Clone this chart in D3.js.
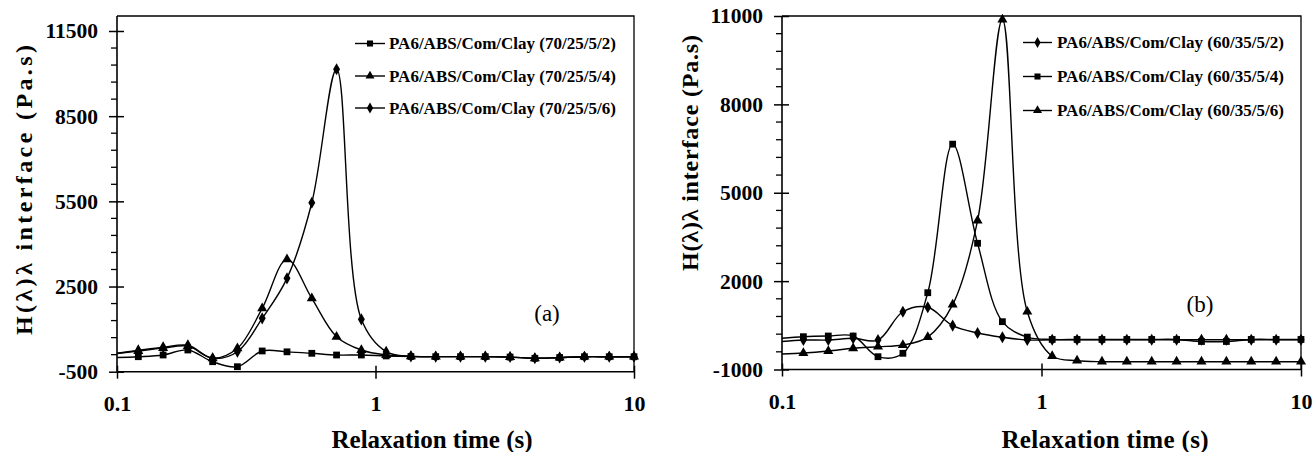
<!DOCTYPE html>
<html><head><meta charset="utf-8">
<script src="https://cdn.jsdelivr.net/npm/d3@7"></script>
<style>
body{margin:0;background:#fff;}
svg{display:block;}
text{font-family:"Liberation Serif","Times New Roman",serif;fill:#000;}
</style>
</head><body>
<svg id="c" width="1313" height="452"></svg>
<script>
// ---------- DATA ----------
// relaxation times (s); the first entry (0.1) starts the line at the axis, markers drawn from index 1
const relaxTime = [0.1, 0.1209, 0.1508, 0.1880, 0.2344, 0.2923, 0.3645, 0.4546, 0.5670, 0.7069, 0.8816,
                   1.0995, 1.371, 1.710, 2.132, 2.659, 3.316, 4.135, 5.157, 6.431, 8.020, 10.0];

// panel (a)
const a_70_25_5_2 = [0, 28, 88, 264, -148, -324, 230, 200, 148, 88, 88, 55, 35, 30, 30, 30, 15, -28, 0, 28, 28, 28];
const a_70_25_5_4 = [140, 230, 330, 400, -28, 323, 1731, 3455, 2083, 732, 264, 88, 40, 30, 30, 30, 15, -28, 0, 28, 28, 28];
const a_70_25_5_6 = [150, 250, 360, 430, -28, 204, 1379, 2787, 5450, 10150, 1344, 204, 40, 30, 30, 30, 15, -28, 0, 28, 28, 28];

// panel (b)
const b_60_35_5_2 = [-50, 0, 0, 59, 0, 960, 1112, 490, 240, 93, 0, 10, 10, 10, 10, 10, 10, 10, 10, 10, 10, 10];
const b_60_35_5_4 = [60, 114, 137, 137, -565, -450, 1607, 6650, 3285, 623, 100, 20, 20, 20, 20, 20, 20, -50, -50, 20, 20, 20];
const b_60_35_5_6 = [-474, -440, -372, -280, -226, -170, 100, 1200, 4052, 10880, 962, -542, -701, -735, -735, -735, -735, -735, -735, -735, -735, -735];

const yTicksA = [-500, 2500, 5500, 8500, 11500];
const yTicksB = [-1000, 2000, 5000, 8000, 11000];
const xTicks = [0.1, 1, 10];
const xTickLabels = ["0.1", "1", "10"];

const namesA = ["PA6/ABS/Com/Clay (70/25/5/2)", "PA6/ABS/Com/Clay (70/25/5/4)", "PA6/ABS/Com/Clay (70/25/5/6)"];
const namesB = ["PA6/ABS/Com/Clay (60/35/5/2)", "PA6/ABS/Com/Clay (60/35/5/4)", "PA6/ABS/Com/Clay (60/35/5/6)"];

const yTitle = "H(λ)λ interface (Pa.s)";
const xTitle = "Relaxation time (s)";

// ---------- LAYOUT ----------
const panels = [
  { left:117, right:634, top:16, bottom:371.7, yDomain:[-500, 12028], yTicks:yTicksA,
    series:[{name:namesA[0], v:a_70_25_5_2, sym:"square"},
            {name:namesA[1], v:a_70_25_5_4, sym:"triangle"},
            {name:namesA[2], v:a_70_25_5_6, sym:"diamond"}],
    leg:{x0:355, x1:385, tx:389, ys:[43.5, 76, 108]},
    tag:"(a)", tagX:547, tagY:313,
    yt:{x:24, y:190, len:290}, xt:{x:432, len:201} },
  { left:782, right:1301, top:16, bottom:369.5, yDomain:[-1000, 11000], yTicks:yTicksB,
    series:[{name:namesB[0], v:b_60_35_5_2, sym:"diamond"},
            {name:namesB[1], v:b_60_35_5_4, sym:"square"},
            {name:namesB[2], v:b_60_35_5_6, sym:"triangle"}],
    leg:{x0:1023, x1:1052, tx:1057, ys:[42.5, 76.5, 110.5]},
    tag:"(b)", tagX:1200, tagY:304,
    yt:{x:690, y:153, len:236}, xt:{x:1105, len:207} }
];

const svg = d3.select("#c");
const symType = {square:d3.symbolSquare, triangle:d3.symbolTriangle, diamond:d3.symbolDiamond};
const symSize = {square:46, triangle:44, diamond:42};

panels.forEach(p => {
  const x = d3.scaleLog().domain([0.1, 10]).range([p.left, p.right]);
  const y = d3.scaleLinear().domain(p.yDomain).range([p.bottom, p.top]);
  const g = svg.append("g");

  // frame (top, right)
  g.append("path").attr("d", `M${p.left},${p.top}H${p.right}V${p.bottom}`)
    .attr("fill","none").attr("stroke","#000").attr("stroke-width",1.3);

  // y axis
  const minor = d3.range(p.yDomain[0], p.yDomain[1] + 1, 600).filter(v => !p.yTicks.includes(v) && y(v) >= p.top);
  const ya = d3.axisLeft(y).tickValues(p.yTicks).tickSize(8).tickPadding(11).tickFormat(d => String(d));
  const yg = g.append("g").attr("transform", `translate(${p.left},0)`).call(ya);
  yg.select(".domain").remove();
  yg.selectAll(".tick line").attr("x1", 7).attr("stroke-width",1.5);
  yg.selectAll(".tick text").attr("font-size", 21.5).attr("font-weight","bold")
    .attr("font-family",'"Liberation Serif",serif');
  g.selectAll(null).data(minor).enter().append("line")
    .attr("x1", p.left - 6).attr("x2", p.left).attr("y1", d => y(d)).attr("y2", d => y(d))
    .attr("stroke","#000").attr("stroke-width",1.3);
  g.append("line").attr("x1",p.left).attr("x2",p.left).attr("y1",p.top).attr("y2",p.bottom)
    .attr("stroke","#000").attr("stroke-width",1.6);

  // x axis
  const xa = d3.axisBottom(x).tickValues(xTicks).tickSize(7).tickPadding(17)
    .tickFormat((d,i) => xTickLabels[i]);
  const xg = g.append("g").attr("transform", `translate(0,${p.bottom})`).call(xa);
  xg.select(".domain").remove();
  xg.selectAll(".tick line").attr("y1", -6).attr("stroke-width",1.5);
  xg.selectAll(".tick text").attr("font-size", 22).attr("font-weight","bold")
    .attr("font-family",'"Liberation Serif",serif');
  g.append("line").attr("x1",p.left).attr("x2",p.right).attr("y1",p.bottom).attr("y2",p.bottom)
    .attr("stroke","#000").attr("stroke-width",1.6);

  // series
  const line = d3.line().x(d => x(d[0])).y(d => y(d[1])).curve(d3.curveCatmullRom.alpha(0.5));
  p.series.forEach(s => {
    const pts = relaxTime.map((t,i) => [t, s.v[i]]);
    g.append("path").attr("d", line(pts)).attr("fill","none").attr("stroke","#000").attr("stroke-width",1.4);
    g.selectAll(null).data(pts.slice(1)).enter().append("path")
      .attr("d", d3.symbol().type(symType[s.sym]).size(symSize[s.sym]))
      .attr("transform", d => `translate(${x(d[0])},${y(d[1])})`)
      .attr("fill","#000");
  });

  // legend
  p.series.forEach((s,i) => {
    const ly = p.leg.ys[i];
    g.append("line").attr("x1",p.leg.x0).attr("x2",p.leg.x1).attr("y1",ly).attr("y2",ly)
      .attr("stroke","#000").attr("stroke-width",1.4);
    g.append("path").attr("d", d3.symbol().type(symType[s.sym]).size(symSize[s.sym]*0.8))
      .attr("transform", `translate(${(p.leg.x0+p.leg.x1)/2},${ly})`).attr("fill","#000");
    g.append("text").attr("x", p.leg.tx).attr("y", ly).attr("dy","0.33em")
      .attr("font-size",17).attr("font-weight","bold").text(s.name);
  });

  // tag
  g.append("text").attr("x",p.tagX).attr("y",p.tagY).attr("dy","0.33em").attr("text-anchor","middle")
    .attr("font-size",23).text(p.tag);

  // titles
  g.append("text").attr("transform",`translate(${p.yt.x},${p.yt.y}) rotate(-90)`)
    .attr("text-anchor","middle").attr("dy","0.33em").attr("font-size",24).attr("font-weight","bold")
    .attr("textLength", p.yt.len).attr("lengthAdjust","spacing").text(yTitle);
  g.append("text").attr("x",p.xt.x).attr("y",440).attr("dy","0.33em").attr("text-anchor","middle")
    .attr("font-size",25).attr("font-weight","bold")
    .attr("textLength", p.xt.len).attr("lengthAdjust","spacing").text(xTitle);
});
</script>
</body></html>
